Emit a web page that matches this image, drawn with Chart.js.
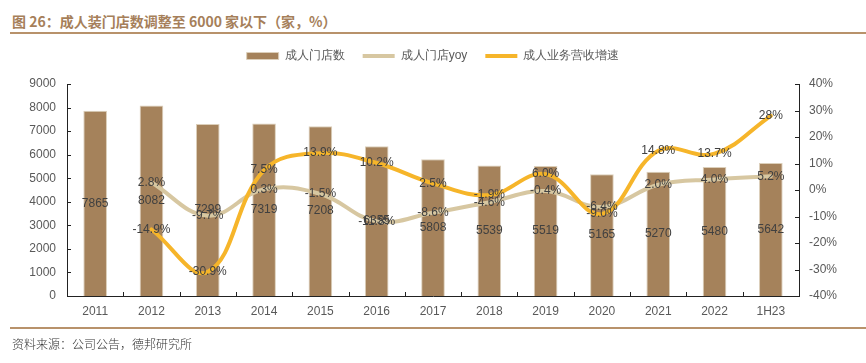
<!DOCTYPE html>
<html>
<head>
<meta charset="utf-8">
<script src="https://cdn.jsdelivr.net/npm/chart.js@4/dist/chart.umd.min.js"></script>
<style>
    body { margin: 0; background: #fff; }
    #wrap { position: relative; width: 866px; height: 363px; overflow: hidden; }
    #chart { position: absolute; left: 0; top: 0; }
    .title { position: absolute; left: 12px; top: 11px; font: bold 14px "Noto Sans CJK SC", "Liberation Sans", sans-serif; color: #a67f5a; white-space: nowrap; }
    .rule { position: absolute; left: 10px; right: 0; height: 2px; background: #b8926b; }
    .source { position: absolute; left: 12px; top: 335px; font: 300 12px "Noto Sans CJK SC", sans-serif; color: #333; }
</style>
</head>
<body>
<div id="wrap">
    <div class="title">图 26：成人装门店数调整至 6000 家以下（家，%）</div>
    <div class="rule" style="top: 32px;"></div>
    <canvas id="chart" width="866" height="363"></canvas>
    <div class="rule" style="top: 327px;"></div>
    <div class="source">资料来源：公司公告，德邦研究所</div>
</div>
<script>
// Data
const years = ['2011', '2012', '2013', '2014', '2015', '2016', '2017', '2018', '2019', '2020', '2021', '2022', '1H23'];
const storeCount = [7865, 8082, 7299, 7319, 7208, 6355, 5808, 5539, 5519, 5165, 5270, 5480, 5642];
const storeYoy = [null, 2.8, -9.7, 0.3, -1.5, -11.8, -8.6, -4.6, -0.4, -6.4, 2.0, 4.0, 5.2];
const revenueGrowth = [null, -14.9, -30.9, 7.5, 13.9, 10.2, 2.5, -1.9, 6.0, -9.0, 14.8, 13.7, 28];

const FONT = '"Liberation Sans", Arial, sans-serif';
const TICK_COLOR = '#595959';

function pct(v) {
    return (Number.isInteger(v) && Math.abs(v) >= 10 ? v : v.toFixed(1)) + '%';
}

// value labels: centred in bars, centred on line points
const valueLabels = {
    id: 'valueLabels',
    afterDatasetsDraw(chart) {
        const ctx = chart.ctx;
        ctx.save();
        ctx.font = '12px ' + FONT;
        ctx.fillStyle = '#404040';
        ctx.textAlign = 'center';
        ctx.textBaseline = 'middle';
        chart.data.datasets.forEach((ds, i) => {
            const meta = chart.getDatasetMeta(i);
            meta.data.forEach((el, j) => {
                const v = ds.data[j];
                if (v === null) return;
                if (ds.type === 'bar') {
                    ctx.fillText(String(v), el.x, (el.y + el.base) / 2);
                } else {
                    ctx.fillText(pct(v), el.x, el.y);
                }
            });
        });
        ctx.restore();
    }
};

// short tick marks pointing into the plot
const innerTicks = {
    id: 'innerTicks',
    afterDraw(chart) {
        const ctx = chart.ctx;
        const { x, y, y1 } = chart.scales;
        const len = 4;
        ctx.save();
        ctx.strokeStyle = '#222';
        ctx.lineWidth = 1;
        ctx.beginPath();
        y.ticks.forEach((t, i) => {
            const py = Math.round(y.getPixelForTick(i)) + 0.5;
            ctx.moveTo(y.right, py);
            ctx.lineTo(y.right + len, py);
        });
        y1.ticks.forEach((t, i) => {
            const py = Math.round(y1.getPixelForTick(i)) + 0.5;
            ctx.moveTo(y1.left, py);
            ctx.lineTo(y1.left - len, py);
        });
        for (let i = 0; i <= years.length; i++) {
            const px = Math.round(x.left + (x.right - x.left) * i / years.length) + 0.5;
            ctx.moveTo(px, x.top);
            ctx.lineTo(px, x.top - len);
        }
        ctx.stroke();
        ctx.restore();
    }
};

// extra gap between legend and plot
const legendGap = {
    id: 'legendGap',
    afterInit(chart) {
        const fit = chart.legend.fit;
        chart.legend.fit = function () {
            fit.bind(chart.legend)();
            this.height += 12;
        };
    }
};

new Chart(document.getElementById('chart'), {
    data: {
        labels: years,
        datasets: [
            {
                type: 'bar',
                label: '成人门店数',
                data: storeCount,
                yAxisID: 'y',
                backgroundColor: '#a5825b',
                borderColor: '#dccfba',
                borderWidth: 1,
                barPercentage: 0.42,
                categoryPercentage: 1,
                pointStyle: 'rect',
                order: 3
            },
            {
                type: 'line',
                label: '成人门店yoy',
                data: storeYoy,
                yAxisID: 'y1',
                borderColor: '#d7c7a1',
                backgroundColor: '#d7c7a1',
                borderWidth: 4,
                borderCapStyle: 'round',
                tension: 0.4,
                pointRadius: 0,
                pointStyle: 'line',
                order: 2
            },
            {
                type: 'line',
                label: '成人业务营收增速',
                data: revenueGrowth,
                yAxisID: 'y1',
                borderColor: '#f6b52a',
                backgroundColor: '#f6b52a',
                borderWidth: 4,
                borderCapStyle: 'round',
                tension: 0.4,
                pointRadius: 0,
                pointStyle: 'line',
                order: 1
            }
        ]
    },
    options: {
        responsive: false,
        animation: false,
        layout: { padding: { top: 32, bottom: 37, left: 0, right: 0 } },
        plugins: {
            legend: {
                position: 'top',
                labels: {
                    usePointStyle: true,
                    pointStyleWidth: 32,
                    boxHeight: 7,
                    padding: 18,
                    color: TICK_COLOR,
                    font: { family: FONT, size: 12 },
                    sort: (a, b) => a.datasetIndex - b.datasetIndex
                }
            },
            tooltip: { enabled: false }
        },
        scales: {
            x: {
                offset: true,
                afterFit: s => { s.height = 30; },
                grid: { display: false, drawTicks: false },
                border: { color: '#222', width: 1 },
                ticks: { color: TICK_COLOR, font: { family: FONT, size: 12 }, padding: 8, maxRotation: 0 }
            },
            y: {
                position: 'left',
                min: 0,
                max: 9000,
                afterFit: s => { s.width = 67; },
                grid: { display: false, drawTicks: false },
                border: { color: '#222', width: 1 },
                ticks: { stepSize: 1000, color: TICK_COLOR, font: { family: FONT, size: 12 }, padding: 11, callback: v => String(v) }
            },
            y1: {
                position: 'right',
                min: -40,
                max: 40,
                afterFit: s => { s.width = 67; },
                grid: { display: false, drawTicks: false },
                border: { color: '#222', width: 1 },
                ticks: { stepSize: 10, color: TICK_COLOR, font: { family: FONT, size: 12 }, padding: 10, callback: v => v + '%' }
            }
        }
    },
    plugins: [valueLabels, innerTicks, legendGap]
});
</script>
</body>
</html>
